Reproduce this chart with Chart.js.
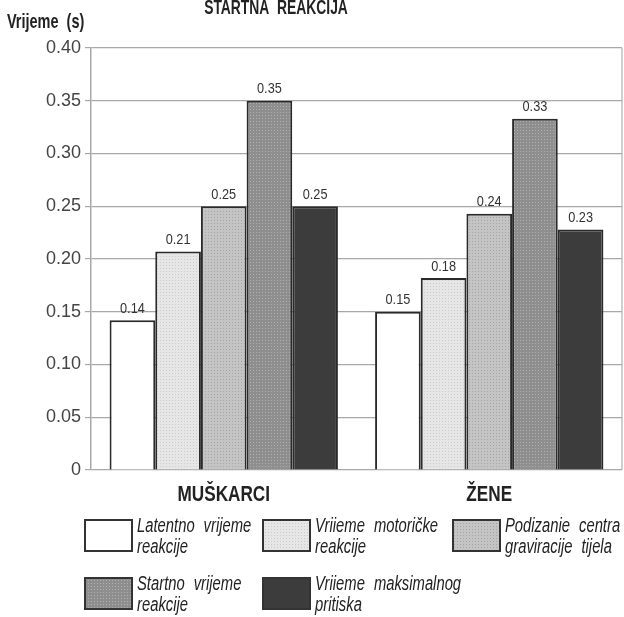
<!DOCTYPE html>
<html>
<head>
<meta charset="utf-8">
<script src="https://cdn.jsdelivr.net/npm/chart.js@4/dist/chart.umd.min.js"></script>
<style>
  html, body { margin: 0; padding: 0; background: #fff; }
  #wrap { position: relative; width: 624px; height: 617px; }
</style>
</head>
<body>
<div id="wrap"><canvas id="chart"></canvas></div>
<script>
"use strict";

// Podaci
const groups = ["MUŠKARCI", "ŽENE"];
const seriesNames = [
    ["Latentno vrijeme", "reakcije"],
    ["Vriieme motoričke", "reakcije"],
    ["Podizanie centra", "graviracije tijela"],
    ["Startno vrijeme", "reakcije"],
    ["Vriieme maksimalnog", "pritiska"]
];
const latentno = [0.142, 0.150];
const motoricke = [0.207, 0.182];
const podizanje = [0.250, 0.243];
const startno = [0.350, 0.333];
const maksimalni = [0.250, 0.228];
const yMin = 0, yMax = 0.40, yStep = 0.05;

const FONT = '"Liberation Sans", Arial, sans-serif';

// Rasterski uzorak kao u originalu
function pattern(base, dot) {
    const c = document.createElement("canvas");
    c.width = c.height = 3;
    const x = c.getContext("2d");
    x.fillStyle = base;
    x.fillRect(0, 0, 3, 3);
    x.fillStyle = dot;
    x.fillRect(1, 1, 1, 1);
    return x.createPattern(c, "repeat");
}

// Suženi tekst (original koristi uski font)
function narrowText(ctx, text, x, y, align, sx) {
    ctx.save();
    ctx.translate(x, y);
    ctx.scale(sx, 1);
    ctx.textAlign = align;
    ctx.fillText(text, 0, 0);
    ctx.restore();
}

const fills = [
    "#ffffff",
    pattern("#e6e6e6", "#cacaca"),
    pattern("#c4c4c4", "#a4a4a4"),
    pattern("#8e8e8e", "#b0b0b0"),
    "#3c3c3c"
];
const values = [latentno, motoricke, podizanje, startno, maksimalni];

// Pozicije legende (raspored, ne podaci)
const legendSlots = [[85, 520], [263, 520], [453, 520], [85, 578], [263, 578]];

const extras = {
    id: "extras",
    afterDatasetsDraw(chart) {
        const ctx = chart.ctx;
        ctx.save();
        ctx.font = "15px " + FONT;
        ctx.fillStyle = "#333";
        ctx.textBaseline = "bottom";
        chart.data.datasets.forEach((ds, i) => {
            chart.getDatasetMeta(i).data.forEach((bar, j) => {
                narrowText(ctx, ds.data[j].toFixed(2), bar.x, bar.y - 4, "center", 0.85);
            });
        });
        ctx.restore();
    },
    afterDraw(chart) {
        const ctx = chart.ctx;
        const a = chart.chartArea;
        ctx.save();
        // desni rub okvira
        ctx.strokeStyle = "#b0b0b0";
        ctx.lineWidth = 1.2;
        ctx.beginPath();
        ctx.moveTo(a.right, a.top);
        ctx.lineTo(a.right, a.bottom);
        ctx.stroke();

        ctx.textBaseline = "alphabetic";
        ctx.fillStyle = "#222";

        // kategorije
        ctx.font = "bold 22px " + FONT;
        const xs = chart.scales.x;
        groups.forEach((g, i) => {
            narrowText(ctx, g, xs.getPixelForValue(i), a.bottom + 31, "center", 0.78);
        });

        // naslovi
        ctx.font = "bold 21px " + FONT;
        narrowText(ctx, "STARTNA  REAKCIJA", 276, 14, "center", 0.66);
        narrowText(ctx, "Vrijeme  (s)", 7, 28, "left", 0.69);

        // legenda
        chart.data.datasets.forEach((ds, i) => {
            const [x, y] = legendSlots[i];
            ctx.fillStyle = ds.backgroundColor;
            ctx.fillRect(x, y, 47, 31);
            ctx.strokeStyle = "#333";
            ctx.lineWidth = 2;
            ctx.strokeRect(x, y, 47, 31);
            ctx.fillStyle = "#222";
            ctx.font = "italic 20px " + FONT;
            seriesNames[i].forEach((line, k) => {
                let tx = x + 52;
                line.split(" ").forEach(w => {
                    narrowText(ctx, w, tx, y + 12 + k * 21, "left", 0.74);
                    tx += ctx.measureText(w).width * 0.74 + 9;
                });
            });
        });
        ctx.restore();
    }
};

new Chart(document.getElementById("chart"), {
    type: "bar",
    data: {
        labels: groups,
        datasets: values.map((v, i) => ({
            label: seriesNames[i].join(" "),
            data: v,
            backgroundColor: fills[i],
            borderColor: "#2a2a2a",
            borderWidth: 2,
            borderSkipped: "bottom",
            categoryPercentage: 0.86,
            barPercentage: 1.0
        }))
    },
    options: {
        responsive: true,
        maintainAspectRatio: false,
        animation: false,
        events: [],
        layout: { padding: { top: 48, right: 2, bottom: 107, left: 0 } },
        plugins: {
            legend: { display: false },
            title: { display: false },
            tooltip: { enabled: false }
        },
        scales: {
            x: {
                grid: { display: false },
                border: { display: false },
                ticks: { display: false },
                afterFit(s) { s.height = 40; }
            },
            y: {
                min: yMin,
                max: yMax,
                ticks: {
                    stepSize: yStep,
                    color: "#444",
                    padding: 4,
                    font: { family: FONT, size: 18 },
                    callback: v => (Math.abs(v) < 1e-9 ? "0" : v.toFixed(2))
                },
                grid: { color: "#a8a8a8", lineWidth: 1.2, tickLength: 6 },
                border: { color: "#a8a8a8", width: 1.5 },
                afterFit(s) { s.width = 91; }
            }
        }
    },
    plugins: [extras]
});
</script>
</body>
</html>
